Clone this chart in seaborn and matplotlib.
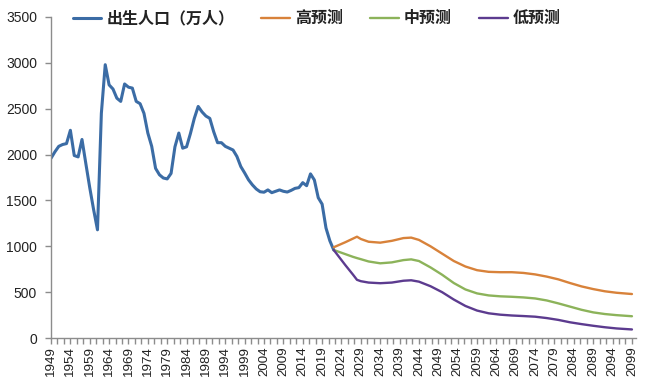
import numpy as np
import pandas as pd
import matplotlib
matplotlib.use("Agg")
import matplotlib.pyplot as plt
from matplotlib.ticker import FixedLocator
import seaborn as sns

# ---------------- data ----------------
hist_years = list(range(1949, 2023))
births = [1960, 2030, 2090, 2110, 2120, 2265, 1990, 1975, 2165, 1900,
          1640, 1400, 1180, 2450, 2980, 2760, 2715, 2615, 2580, 2770,
          2735, 2725, 2580, 2555, 2450, 2235, 2090, 1850, 1780, 1745,
          1735, 1795, 2085, 2235, 2070, 2085, 2230, 2395, 2525, 2465,
          2420, 2395, 2250, 2130, 2130, 2090, 2070, 2050, 1980, 1870,
          1800, 1725, 1670, 1625, 1595, 1590, 1615, 1585, 1600, 1615,
          1600, 1592, 1610, 1632, 1640, 1694, 1661, 1790, 1723, 1530,
          1460, 1200, 1060, 960]

proj_years = [2022, 2025, 2027, 2028, 2029, 2031, 2034, 2037, 2040, 2042,
              2044, 2047, 2050, 2053, 2056, 2059, 2062, 2065, 2068, 2071,
              2074, 2077, 2080, 2083, 2086, 2089, 2092, 2095, 2099]
high = [990, 1045, 1085, 1105, 1080, 1050, 1040, 1060, 1090, 1095,
        1070, 1000, 920, 840, 780, 740, 722, 718, 718, 710,
        694, 670, 640, 600, 563, 534, 510, 494, 480]
mid = [960, 915, 885, 872, 860, 835, 815, 825, 850, 858,
       840, 770, 690, 600, 530, 487, 465, 455, 450, 443,
       432, 410, 378, 343, 308, 280, 262, 250, 238]
low = [960, 795, 690, 635, 620, 605, 598, 605, 625, 630,
       615, 565, 500, 420, 350, 300, 270, 255, 246, 240,
       233, 218, 198, 172, 152, 134, 118, 105, 94]

labels = ["出生人口（万人）", "高预测", "中预测", "低预测"]
colors = ["#3B6CA5", "#D8823A", "#8CB35A", "#5C3B8F"]
xtick_years = list(range(1949, 2100, 5))
yticks = [0, 500, 1000, 1500, 2000, 2500, 3000, 3500]

# ---------------- style ----------------
sns.set_theme(style="white")
plt.rcParams["font.family"] = ["Liberation Sans", "Noto Sans CJK SC", "DejaVu Sans"]

fig = plt.figure(figsize=(6.49, 3.82), dpi=100)
ax = fig.add_axes([0.0786, 0.115, 0.9011, 0.8405])

df_hist = pd.DataFrame({"year": hist_years, "value": births})
sns.lineplot(data=df_hist, x="year", y="value", ax=ax, color=colors[0],
             linewidth=2.2, label=labels[0], estimator=None)
for vals, lab, col in zip([high, mid, low], labels[1:], colors[1:]):
    d = pd.DataFrame({"year": proj_years, "value": vals})
    sns.lineplot(data=d, x="year", y="value", ax=ax, color=col,
                 linewidth=1.7, label=lab, estimator=None)

ax.set_xlim(1949, 2100)
ax.set_ylim(0, 3500)
ax.set_xlabel("")
ax.set_ylabel("")

ax.set_yticks(yticks)
ax.set_yticklabels([str(v) for v in yticks], fontsize=10, color="#222222")
ax.set_xticks(xtick_years)
ax.set_xticklabels([str(y) for y in xtick_years], rotation=90, fontsize=9.6,
                   color="#222222")
ax.xaxis.set_minor_locator(FixedLocator([1949 + i * 5 / 3 for i in range(0, 91)]))

for s in ["top", "right"]:
    ax.spines[s].set_visible(False)
for s in ["left", "bottom"]:
    ax.spines[s].set_color("#8C8C8C")
    ax.spines[s].set_linewidth(1.0)

ax.tick_params(axis="y", which="major", left=True, length=4, width=1,
               color="#8C8C8C", pad=6)
ax.tick_params(axis="x", which="both", bottom=True, length=4, width=1,
               color="#8C8C8C", pad=2)

if ax.get_legend():
    ax.get_legend().remove()
handles, labs = ax.get_legend_handles_labels()
leg = fig.legend(handles, labs, loc="center left", bbox_to_anchor=(0.112, 0.952),
                 ncol=4, frameon=False, handlelength=1.8, handletextpad=0.3,
                 columnspacing=1.7, borderpad=0, borderaxespad=0,
                 prop={"family": ["Noto Sans CJK SC", "DejaVu Sans"],
                       "weight": "bold", "size": 11.5})
for t in leg.get_texts():
    t.set_color("#222222")

fig.savefig("out.png", dpi=100)
